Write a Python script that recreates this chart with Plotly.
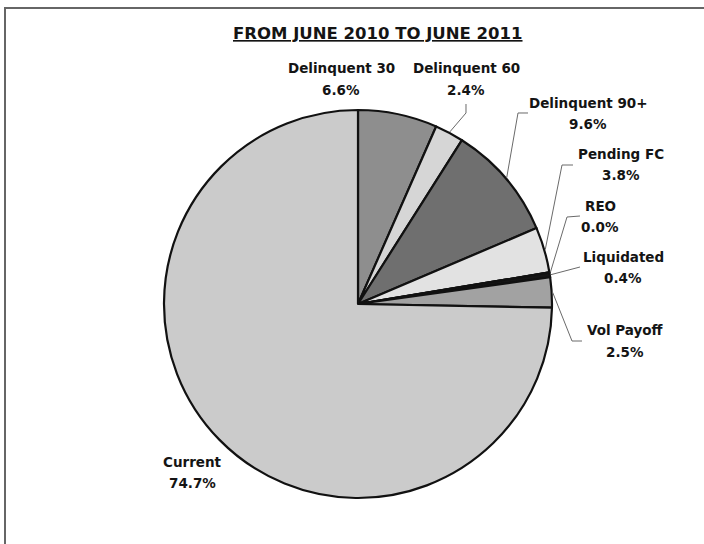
import math
import plotly.graph_objects as go

# Loan status distribution, June 2010 -> June 2011
categories = ["Delinquent 30", "Delinquent 60", "Delinquent 90+", "Pending FC",
              "REO", "Liquidated", "Vol Payoff", "Current"]
shares = [6.6, 2.4, 9.6, 3.8, 0.0, 0.4, 2.5, 74.7]
slice_colors = ["#8e8e8e", "#d6d6d6", "#6f6f6f", "#e2e2e2",
                "#bdbdbd", "#151515", "#a2a2a2", "#cbcbcb"]
title_text = "FROM JUNE 2010 TO JUNE 2011"

W, H = 704, 544
CX, CY, R = 358, 304, 194          # pie centre / radius in pixels
FONT = "DejaVu Sans"
TXT = "#141414"


def px(x, y):
    """pixel -> paper coordinates"""
    return x / W, 1 - y / H


# label anchor (centre x, name y, value y) and leader-line knee/end points
label_layout = {
    "Delinquent 30": (341, 68, 90, None),
    "Delinquent 60": (466, 68, 90, [(466, 113), (466, 104)]),
    "Delinquent 90+": (588, 103, 124, [(518, 113), (528, 113)]),
    "Pending FC": (621, 154, 175, [(562, 165), (573, 165)]),
    "REO": (600, 206, 227, [(567, 217), (580, 216)]),
    "Liquidated": (623, 257, 278, [(580, 267)]),
    "Vol Payoff": (625, 330, 352, [(572, 341), (582, 341)]),
    "Current": (192, 462, 483, None),
}

fig = go.Figure()
fig.add_trace(go.Pie(
    labels=categories,
    values=shares,
    sort=False,
    direction="clockwise",
    rotation=0,
    textinfo="none",
    hoverinfo="label+percent",
    marker=dict(colors=slice_colors, line=dict(color="#111111", width=2.2)),
    domain=dict(x=[(CX - R) / W, (CX + R) / W],
                y=[1 - (CY + R) / H, 1 - (CY - R) / H]),
    showlegend=False,
))

annotations = []
shapes = []
total = sum(shares)
cum = 0.0
for name, val in zip(categories, shares):
    mid = (cum + val / 2) / total * 2 * math.pi
    cum += val
    lx, ly1, ly2, leader = label_layout[name]
    for txt, yy in ((name, ly1), (f"{val:.1f}%", ly2)):
        ax, ay = px(lx, yy)
        annotations.append(dict(
            x=ax, y=ay, xref="paper", yref="paper", text=f"<b>{txt}</b>",
            showarrow=False, xanchor="center", yanchor="middle",
            font=dict(family=FONT, size=13.5, color=TXT)))
    if leader:
        ex = CX + (R + 1) * math.sin(mid)
        ey = CY - (R + 1) * math.cos(mid)
        pts = [(ex, ey)] + leader
        path = " ".join(("M" if i == 0 else "L") + " {:.5f},{:.5f}".format(*px(x, y))
                        for i, (x, y) in enumerate(pts))
        shapes.append(dict(type="path", path=path, xref="paper", yref="paper",
                           line=dict(color="#6a6a6a", width=1)))

# title
tx, ty = px(378, 33)
annotations.append(dict(
    x=tx, y=ty, xref="paper", yref="paper",
    text=f"<b><u>{title_text}</u></b>", showarrow=False,
    xanchor="center", yanchor="middle",
    font=dict(family=FONT, size=16.5, color=TXT)))

# chart frame
shapes.append(dict(type="rect", xref="paper", yref="paper",
                   x0=5 / W, x1=1.02, y0=-0.02, y1=1 - 8 / H,
                   line=dict(color="#666666", width=2), layer="below"))

fig.update_layout(
    width=W, height=H,
    margin=dict(l=0, r=0, t=0, b=0),
    paper_bgcolor="white", plot_bgcolor="white",
    annotations=annotations, shapes=shapes,
)

fig.write_html("out.html")
